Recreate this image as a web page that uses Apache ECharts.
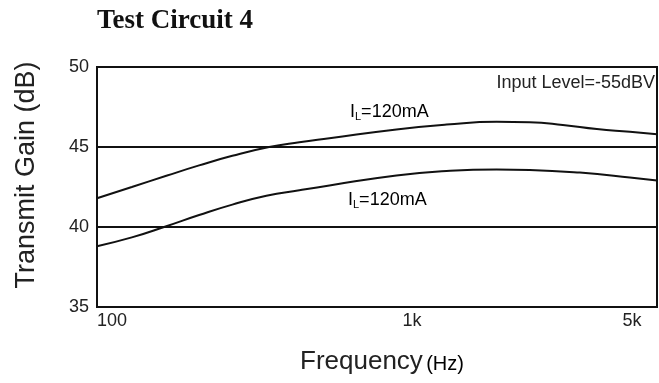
<!DOCTYPE html>
<html>
<head>
<meta charset="utf-8">
<script src="https://cdn.jsdelivr.net/npm/echarts@6/dist/echarts.min.js"></script>
<style>
html,body{margin:0;padding:0;background:#fff;}
#chart{width:659px;height:383px;}
</style>
</head>
<body>
<div id="chart"></div>
<script>
// Frequencies (Hz) and transmit gain (dB)
var freqUpper = [100, 129, 166, 211, 269, 352, 439, 547, 893, 1288, 1858, 2366, 3013, 3865, 4920, 6000];
var gainUpper = [41.8, 42.5, 43.2, 43.85, 44.45, 45.0, 45.3, 45.55, 46.1, 46.4, 46.58, 46.55, 46.38, 46.12, 45.95, 45.8];
var freqLower = [100, 129, 166, 211, 269, 345, 439, 547, 893, 1288, 1858, 2366, 3412, 4920, 6000];
var gainLower = [38.8, 39.35, 40.05, 40.75, 41.4, 41.95, 42.3, 42.6, 43.22, 43.5, 43.6, 43.57, 43.4, 43.1, 42.9];
var xTicks = [100, 1000, 5000];
var yTicks = [35, 40, 45, 50];
var titleText = 'Test Circuit 4';
var yName = 'Transmit Gain (dB)';
var noteText = 'Input Level=-55dBV';

function pairs(xs, ys) { return xs.map(function (x, i) { return [x, ys[i]]; }); }

var chart = echarts.init(document.getElementById('chart'));
var black = '#111';
var sans = 'Liberation Sans, Arial, sans-serif';
var labelRich = {
  n: { fontSize: 18, fontFamily: sans, color: '#222' },
  s: { fontSize: 11, fontFamily: sans, color: '#222', verticalAlign: 'bottom', padding: [10, 0, 0, 0] }
};

chart.setOption({
  animation: false,
  backgroundColor: '#fff',
  title: {
    text: titleText,
    left: 92, top: 3,
    textStyle: { fontFamily: 'Liberation Serif, Times New Roman, serif', fontWeight: 'bold', fontSize: 27, color: '#111' }
  },
  grid: { left: 97, top: 67, width: 560, height: 240, show: true, borderColor: black, borderWidth: 2, backgroundColor: '#fff' },
  xAxis: {
    type: 'log', logBase: 10, min: 100, max: 6000,
    axisLine: { show: true, lineStyle: { color: black, width: 2 } },
    axisTick: { show: false },
    splitLine: { show: false },
    minorSplitLine: { show: false },
    axisLabel: {
      customValues: xTicks,
      alignMinLabel: 'left',
      margin: 5,
      fontSize: 18, fontFamily: sans, color: '#222',
      formatter: function (v) { return v >= 1000 ? (v / 1000) + 'k' : String(v); }
    }
  },
  yAxis: {
    type: 'value', min: 35, max: 50, interval: 5,
    axisLine: { show: true, lineStyle: { color: black, width: 2 } },
    axisTick: { show: false },
    splitLine: { show: true, lineStyle: { color: black, width: 2 } },
    axisLabel: { margin: 8, fontSize: 18, fontFamily: sans, color: '#222',
      customValues: yTicks }
  },
  series: [
    { type: 'line', data: pairs(freqUpper, gainUpper), smooth: 0.5, showSymbol: false,
      lineStyle: { color: black, width: 2 }, z: 5 },
    { type: 'line', data: pairs(freqLower, gainLower), smooth: 0.5, showSymbol: false,
      lineStyle: { color: black, width: 2 }, z: 5 }
  ],
  graphic: [
    { type: 'text', x: 27, y: 175, rotation: Math.PI / 2,
      style: { text: yName, fontSize: 27, fontFamily: sans, fill: '#222', align: 'center', verticalAlign: 'middle' } },
    { type: 'text', x: 382, y: 362,
      style: { text: '{a|Frequency} {b|(Hz)}', align: 'center', verticalAlign: 'middle',
        rich: { a: { fontSize: 26, fontFamily: sans, fill: '#222', color: '#222' }, b: { fontSize: 20, fontFamily: sans, color: '#222', padding: [4, 0, 0, 0] } } } },
    { type: 'text', x: 655, y: 83, z: 10,
      style: { text: noteText, fontSize: 18, fontFamily: sans, fill: '#222', align: 'right', verticalAlign: 'middle' } },
    { type: 'text', x: 350, y: 112, z: 10,
      style: { text: '{n|I}{s|L}{n|=120mA}', align: 'left', verticalAlign: 'middle', rich: labelRich } },
    { type: 'text', x: 348, y: 200, z: 10,
      style: { text: '{n|I}{s|L}{n|=120mA}', align: 'left', verticalAlign: 'middle', rich: labelRich } }
  ]
});
</script>
</body>
</html>
